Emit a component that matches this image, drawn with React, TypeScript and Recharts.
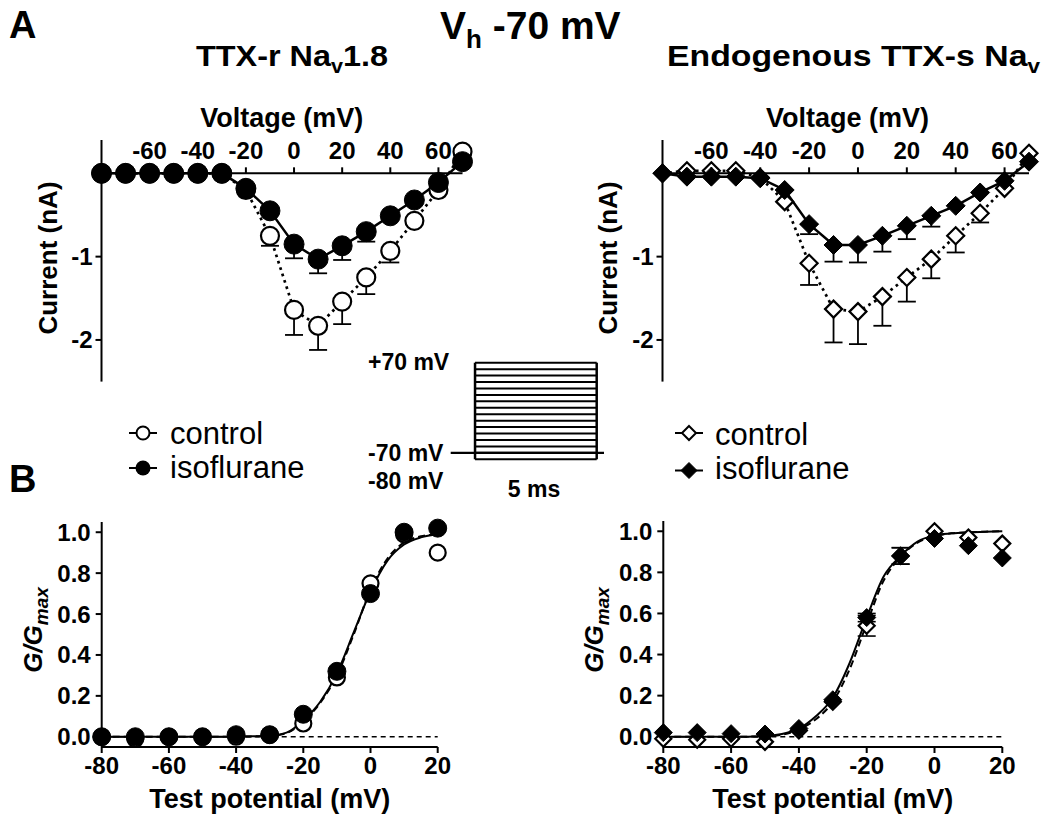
import React from 'react';
import { ComposedChart, LineChart, Line, Scatter, XAxis, YAxis, ErrorBar, ReferenceLine } from 'recharts';

// Vh -70 mV: I-V curves (A) and G/Gmax activation (B)

const W = 1050;
const H = 825;
const FONT = '"Liberation Sans", Arial, Helvetica, sans-serif';

// ---- A: current-voltage data (nA) ----
const IV_VOLTAGES = [-80, -70, -60, -50, -40, -30, -20, -10, 0, 10, 20, 30, 40, 50, 60, 70];
const IV_TICKS = [-60, -40, -20, 0, 20, 40, 60];
const IV_Y_TICKS = [-2, -1];

const NAV18_CONTROL = [0, 0, 0, 0, 0, 0, -0.2, -0.75, -1.64, -1.83, -1.54, -1.25, -0.93, -0.57, -0.2, 0.26];
const NAV18_CONTROL_SEM = [null, null, null, null, null, null, null, 0.12, 0.3, 0.29, 0.27, 0.2, 0.14, null, null, null];
const NAV18_ISO = [0, 0, 0, 0, 0, 0, -0.18, -0.45, -0.85, -1.03, -0.87, -0.7, -0.51, -0.32, -0.11, 0.14];
const NAV18_ISO_SEM = [null, null, null, null, null, null, null, null, 0.17, 0.17, 0.17, 0.12, null, null, null, null];

const TTXS_CONTROL = [0, 0.03, 0.03, 0.03, -0.05, -0.34, -1.08, -1.63, -1.66, -1.48, -1.25, -1.03, -0.75, -0.48, -0.18, 0.24];
const TTXS_CONTROL_SEM = [null, null, null, null, null, null, 0.26, 0.4, 0.39, 0.35, 0.29, 0.23, 0.2, 0.11, null, null];
const TTXS_ISO = [0, -0.04, -0.04, -0.04, -0.06, -0.2, -0.61, -0.86, -0.86, -0.75, -0.63, -0.51, -0.39, -0.23, -0.09, 0.14];
const TTXS_ISO_SEM = [null, null, null, null, null, null, 0.12, 0.2, 0.21, 0.19, 0.16, 0.13, null, null, null, null];

// ---- B: normalized conductance ----
const GV_VOLTAGES = [-80, -70, -60, -50, -40, -30, -20, -10, 0, 10, 20];
const GV_TICKS = [-80, -60, -40, -20, 0, 20];
const GV_Y_TICKS = [0, 0.2, 0.4, 0.6, 0.8, 1.0];

const NAV18_GV_CONTROL = [0, -0.01, 0, 0, 0, 0.01, 0.065, 0.29, 0.75, 0.99, 0.9];
const NAV18_GV_ISO = [0, 0, 0, 0, 0.01, 0.01, 0.11, 0.32, 0.7, 1.0, 1.02];
const TTXS_GV_CONTROL = [-0.01, -0.015, -0.01, -0.025, 0.03, 0.17, 0.54, 0.88, 1.0, 0.97, 0.94];
const TTXS_GV_CONTROL_SEM = [null, null, null, null, null, null, 0.05, 0.04, null, null, null];
const TTXS_GV_ISO = [0.02, 0.02, 0.015, 0.013, 0.04, 0.18, 0.58, 0.88, 0.965, 0.93, 0.87];
const TTXS_GV_ISO_SEM = [null, null, null, null, null, null, 0.02, 0.04, null, null, null];

// Boltzmann fit curves
const FIT_VOLTAGES = [-80, -70, -60, -50, -45, -40, -35, -30, -25, -20, -15, -10, -5, 0, 5, 10, 15, 20];
const NAV18_FIT_CONTROL = [0, 0, 0, 0, 0, 0.001, 0.002, 0.004, 0.018, 0.075, 0.165, 0.3, 0.5, 0.72, 0.87, 0.95, 0.98, 0.99];
const NAV18_FIT_ISO = [0, 0, 0, 0, 0, 0.001, 0.002, 0.005, 0.02, 0.08, 0.17, 0.31, 0.51, 0.71, 0.86, 0.94, 0.975, 0.99];
const TTXS_FIT_CONTROL = [0, 0, 0, 0.002, 0.01, 0.035, 0.085, 0.17, 0.33, 0.55, 0.76, 0.875, 0.945, 0.975, 0.99, 0.995, 0.998, 1.0];
const TTXS_FIT_ISO = [0, 0, 0, 0.003, 0.013, 0.04, 0.1, 0.19, 0.36, 0.58, 0.78, 0.88, 0.95, 0.98, 0.99, 0.995, 0.998, 1.0];

// ---- voltage protocol ----
const STEP_LEVELS = [-80, -70, -60, -50, -40, -30, -20, -10, 0, 10, 20, 30, 40, 50, 60, 70];
const HOLD_TIMES = [-1, 5.3];
const HOLD_MV = -70;
const PULSE_MS = 5;

type Rect = { left: number; top: number; right: number; bottom: number };

const TL: Rect = { left: 101.5, top: 140, right: 462.5, bottom: 381.6 };
const TR: Rect = { left: 662.5, top: 140, right: 1029, bottom: 381.6 };
const BL: Rect = { left: 101.7, top: 522, right: 437.7, bottom: 747 };
const BR: Rect = { left: 663.3, top: 521, right: 1002.3, bottom: 747 };
const PROTO: Rect = { left: 450.7, top: 362.7, right: 604, bottom: 459.3 };

const Y_W = 40;
const X_H = 20;

const rows = (xs: number[], ys: number[], sem?: (number | null)[], oneSided = false) =>
  xs.map((x, i) => ({
    x,
    y: ys[i],
    sem: sem && sem[i] != null ? (oneSided ? [sem[i], 0] : sem[i]) : null,
  }));

const axisStroke = { stroke: '#000', strokeWidth: 2 };
const tickText = { fill: '#000', fontSize: 24, fontWeight: 700, fontFamily: FONT };

const circleDot = (r: number, filled: boolean) => (p: any) => (
  <circle
    key={`c-${p.index}`}
    cx={p.cx}
    cy={p.cy}
    r={r}
    fill={filled ? '#000' : '#fff'}
    stroke="#000"
    strokeWidth={filled ? 1 : 2.2}
  />
);

const diamondDot = (s: number, filled: boolean) => (p: any) => (
  <polygon
    key={`d-${p.index}`}
    points={`${p.cx},${p.cy - s} ${p.cx + s},${p.cy} ${p.cx},${p.cy + s} ${p.cx - s},${p.cy}`}
    fill={filled ? '#000' : '#fff'}
    stroke="#000"
    strokeWidth={filled ? 1 : 2.2}
    strokeLinejoin="miter"
  />
);

const TopTick = (props: any) => {
  const { x, payload, zeroY } = props;
  return (
    <g>
      <line x1={x} x2={x} y1={zeroY} y2={zeroY - 6} stroke="#000" strokeWidth={2} />
      <text x={x} y={zeroY - 14} textAnchor="middle" {...tickText}>
        {payload.value}
      </text>
    </g>
  );
};

const Layer = ({ children }: { children: React.ReactNode }) => (
  <div style={{ position: 'absolute', left: 0, top: 0, width: W, height: H }}>{children}</div>
);

const IV_MIN = -2.5;
const IV_MAX = 0.4;

const IvPanel = ({ rect, ctrl, ctrlSem, iso, isoSem, diamonds }: any) => {
  const zeroY = rect.top + (IV_MAX / (IV_MAX - IV_MIN)) * (rect.bottom - rect.top);
  const ctrlRows = rows(IV_VOLTAGES, ctrl, ctrlSem, true);
  const isoRows = rows(IV_VOLTAGES, iso, isoSem, true);
  return (
    <Layer>
      <ComposedChart
        width={W}
        height={H}
        margin={{ left: rect.left - Y_W, right: W - rect.right, top: rect.top - X_H, bottom: H - rect.bottom }}
      >
        <XAxis
          type="number"
          dataKey="x"
          orientation="top"
          domain={[-80, 70]}
          ticks={IV_TICKS}
          height={X_H}
          axisLine={false}
          tickLine={false}
          tick={(p: any) => <TopTick {...p} zeroY={zeroY} />}
        />
        <YAxis
          type="number"
          domain={[IV_MIN, IV_MAX]}
          ticks={IV_Y_TICKS}
          width={Y_W}
          tickSize={6}
          tickMargin={3}
          axisLine={axisStroke}
          tickLine={axisStroke}
          tick={tickText}
        />
        <ReferenceLine y={0} stroke="#000" strokeWidth={2} />
        <Line
          data={ctrlRows}
          dataKey="y"
          stroke="#000"
          strokeWidth={2.7}
          strokeDasharray="2.7 4"
          dot={diamonds ? diamondDot(8.5, false) : circleDot(9, false)}
          activeDot={false}
          isAnimationActive={false}
        >
          <ErrorBar dataKey="sem" direction="y" width={9} stroke="#000" strokeWidth={1.8} />
        </Line>
        <Line
          data={isoRows}
          dataKey="y"
          stroke="#000"
          strokeWidth={2.5}
          dot={diamonds ? diamondDot(9.5, true) : circleDot(10, true)}
          activeDot={false}
          isAnimationActive={false}
        >
          <ErrorBar dataKey="sem" direction="y" width={9} stroke="#000" strokeWidth={1.8} />
        </Line>
      </ComposedChart>
    </Layer>
  );
};

const GvPanel = ({ rect, ctrl, ctrlSem, iso, isoSem, fitCtrl, fitIso, diamonds }: any) => {
  const ctrlRows = rows(GV_VOLTAGES, ctrl, ctrlSem);
  const isoRows = rows(GV_VOLTAGES, iso, isoSem);
  const fitCtrlRows = rows(FIT_VOLTAGES, fitCtrl);
  const fitIsoRows = rows(FIT_VOLTAGES, fitIso);
  return (
    <Layer>
      <ComposedChart
        width={W}
        height={H}
        margin={{ left: rect.left - Y_W, right: W - rect.right, top: rect.top, bottom: H - rect.bottom - X_H }}
      >
        <XAxis
          type="number"
          dataKey="x"
          domain={[-80, 20]}
          ticks={GV_TICKS}
          height={X_H}
          tickSize={6}
          tickMargin={4}
          axisLine={axisStroke}
          tickLine={axisStroke}
          tick={tickText}
        />
        <YAxis
          type="number"
          domain={[-0.05, 1.05]}
          ticks={GV_Y_TICKS}
          tickFormatter={(v: number) => v.toFixed(1)}
          width={Y_W}
          tickSize={6}
          tickMargin={5}
          axisLine={axisStroke}
          tickLine={axisStroke}
          tick={tickText}
        />
        <ReferenceLine y={0} stroke="#000" strokeWidth={1.6} strokeDasharray="5 4" />
        <Line data={fitCtrlRows} dataKey="y" stroke="#000" strokeWidth={2} strokeDasharray="7 4" dot={false} activeDot={false} type="monotone" isAnimationActive={false} />
        <Line data={fitIsoRows} dataKey="y" stroke="#000" strokeWidth={2} dot={false} activeDot={false} type="monotone" isAnimationActive={false} />
        <Scatter data={ctrlRows} dataKey="y" shape={diamonds ? diamondDot(8, false) : circleDot(8, false)} isAnimationActive={false}>
          <ErrorBar dataKey="sem" direction="y" width={9} stroke="#000" strokeWidth={1.6} />
        </Scatter>
        <Scatter data={isoRows} dataKey="y" shape={diamonds ? diamondDot(9, true) : circleDot(9, true)} isAnimationActive={false}>
          <ErrorBar dataKey="sem" direction="y" width={9} stroke="#000" strokeWidth={1.6} />
        </Scatter>
      </ComposedChart>
    </Layer>
  );
};

const Protocol = () => {
  const holdRows = HOLD_TIMES.map((t) => ({ t, v: HOLD_MV }));
  const lo = STEP_LEVELS[0];
  const hi = STEP_LEVELS[STEP_LEVELS.length - 1];
  return (
    <Layer>
      <LineChart
        width={W}
        height={H}
        margin={{ left: PROTO.left, right: W - PROTO.right, top: PROTO.top, bottom: H - PROTO.bottom }}
      >
        <XAxis type="number" dataKey="t" domain={[HOLD_TIMES[0], HOLD_TIMES[1]]} hide />
        <YAxis type="number" domain={[lo, hi]} hide />
        <Line data={holdRows} dataKey="v" stroke="#000" strokeWidth={2.2} dot={false} activeDot={false} isAnimationActive={false} />
        {STEP_LEVELS.map((l) => (
          <ReferenceLine key={l} segment={[{ x: 0, y: l }, { x: PULSE_MS, y: l }]} stroke="#000" strokeWidth={2} />
        ))}
        <ReferenceLine segment={[{ x: 0, y: lo }, { x: 0, y: hi }]} stroke="#000" strokeWidth={2.5} />
        <ReferenceLine segment={[{ x: PULSE_MS, y: lo }, { x: PULSE_MS, y: hi }]} stroke="#000" strokeWidth={2.5} />
      </LineChart>
    </Layer>
  );
};

const bold = { fontFamily: FONT, fontWeight: 700, fill: '#000' } as const;
const plain = { fontFamily: FONT, fontWeight: 400, fill: '#000' } as const;

const LegendDiamond = ({ x, y, s, filled }: any) => (
  <polygon
    points={`${x},${y - s} ${x + s},${y} ${x},${y + s} ${x - s},${y}`}
    fill={filled ? '#000' : '#fff'}
    stroke="#000"
    strokeWidth={filled ? 1 : 2}
  />
);

const Overlay = () => (
  <svg width={W} height={H} style={{ position: 'absolute', left: 0, top: 0 }}>
    <text x={9} y={38} fontSize={38} {...bold}>A</text>
    <text x={9} y={492} fontSize={38} {...bold}>B</text>

    <text x={440} y={39} fontSize={39} {...bold}>
      V<tspan fontSize={26} dy={9}>h</tspan>
      <tspan dy={-9}> -70 mV</tspan>
    </text>
    <text x={196} y={66} fontSize={30} textLength={192} lengthAdjust="spacingAndGlyphs" {...bold}>
      TTX-r Na<tspan fontSize={20} dy={7}>v</tspan>
      <tspan dy={-7}>1.8</tspan>
    </text>
    <text x={667} y={66} fontSize={30} textLength={373} lengthAdjust="spacingAndGlyphs" {...bold}>
      Endogenous TTX-s Na<tspan fontSize={20} dy={7}>v</tspan>
    </text>

    <text x={281.7} y={127} fontSize={27} textAnchor="middle" {...bold}>Voltage (mV)</text>
    <text x={847.5} y={127} fontSize={27} textAnchor="middle" {...bold}>Voltage (mV)</text>
    <text transform="translate(57,258) rotate(-90)" fontSize={26} textAnchor="middle" {...bold}>Current (nA)</text>
    <text transform="translate(617,258) rotate(-90)" fontSize={26} textAnchor="middle" {...bold}>Current (nA)</text>

    <line x1={129} x2={157} y1={433} y2={433} stroke="#000" strokeWidth={2} />
    <circle cx={143} cy={433} r={6.5} fill="#fff" stroke="#000" strokeWidth={2} />
    <text x={170} y={444} fontSize={31} {...plain}>control</text>
    <line x1={129} x2={157} y1={468} y2={468} stroke="#000" strokeWidth={2} />
    <circle cx={143} cy={468} r={7.5} fill="#000" />
    <text x={170} y={478} fontSize={31} {...plain}>isoflurane</text>

    <line x1={675} x2={703} y1={433} y2={433} stroke="#000" strokeWidth={2} />
    <LegendDiamond x={689} y={433} s={7} filled={false} />
    <text x={715} y={445} fontSize={31} {...plain}>control</text>
    <line x1={675} x2={703} y1={470.5} y2={470.5} stroke="#000" strokeWidth={2} />
    <LegendDiamond x={689} y={470.5} s={8} filled />
    <text x={715} y={479} fontSize={31} {...plain}>isoflurane</text>

    <text x={368} y={370} fontSize={23} {...bold}>+70 mV</text>
    <text x={368} y={461} fontSize={23} {...bold}>-70 mV</text>
    <text x={368} y={489} fontSize={23} {...bold}>-80 mV</text>
    <text x={534} y={497} fontSize={23} textAnchor="middle" {...bold}>5 ms</text>

    <text transform="translate(42,630) rotate(-90)" fontSize={26} textAnchor="middle" {...bold} fontStyle="italic">
      G/G<tspan fontSize={19} dy={6}>max</tspan>
    </text>
    <text transform="translate(603,630) rotate(-90)" fontSize={26} textAnchor="middle" {...bold} fontStyle="italic">
      G/G<tspan fontSize={19} dy={6}>max</tspan>
    </text>
    <text x={269.7} y={808} fontSize={27} textAnchor="middle" {...bold}>Test potential (mV)</text>
    <text x={832.8} y={808} fontSize={27} textAnchor="middle" {...bold}>Test potential (mV)</text>
  </svg>
);

export default function App() {
  return (
    <div style={{ position: 'absolute', left: 0, top: 0, width: W, height: H, background: '#fff', fontFamily: FONT }}>
      <IvPanel rect={TL} ctrl={NAV18_CONTROL} ctrlSem={NAV18_CONTROL_SEM} iso={NAV18_ISO} isoSem={NAV18_ISO_SEM} />
      <IvPanel rect={TR} ctrl={TTXS_CONTROL} ctrlSem={TTXS_CONTROL_SEM} iso={TTXS_ISO} isoSem={TTXS_ISO_SEM} diamonds />
      <GvPanel
        rect={BL}
        ctrl={NAV18_GV_CONTROL}
        iso={NAV18_GV_ISO}
        fitCtrl={NAV18_FIT_CONTROL}
        fitIso={NAV18_FIT_ISO}
      />
      <GvPanel
        rect={BR}
        ctrl={TTXS_GV_CONTROL}
        ctrlSem={TTXS_GV_CONTROL_SEM}
        iso={TTXS_GV_ISO}
        isoSem={TTXS_GV_ISO_SEM}
        fitCtrl={TTXS_FIT_CONTROL}
        fitIso={TTXS_FIT_ISO}
        diamonds
      />
      <Protocol />
      <Overlay />
    </div>
  );
}
